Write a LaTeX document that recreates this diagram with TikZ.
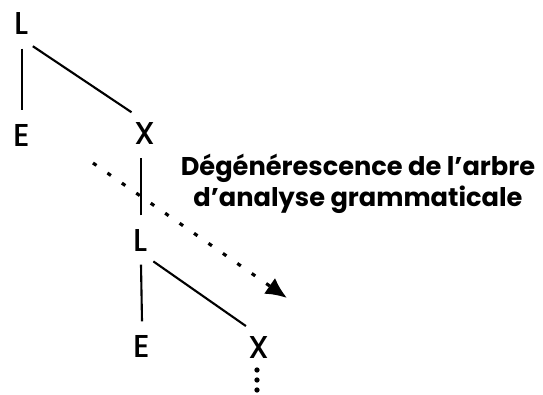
\documentclass[tikz,border=0pt]{standalone}
\usepackage{fontspec}
\setmainfont{Poppins}
\newfontfamily\symbfont{Poppins Medium}
\usepackage{tikz}
\usetikzlibrary{arrows.meta,calc}
\tikzset{
    % noeuds de l'arbre
    symb/.style={
        circle,
        minimum size=4.8mm,
        inner sep=0pt,
        font=\symbfont\fontsize{9}{10}\selectfont
    },
    branch/.style={
        line width=0.6pt,
        black
    },
    % fleche en pointilles
    dotarrow/.style={
        line width=0.9pt,
        dash pattern=on 1.2pt off 3.8pt,
        -{Latex[length=6pt, width=5.5pt]}
    }
}
\begin{document}
\begin{tikzpicture}[x=0.01cm,y=-0.01cm]
\useasboundingbox (0,0) rectangle (543,394);

% ===================== premier niveau =====================
\node[symb] (L1) at (22,24) {L};
\node[symb] (E1) at (22,135) {E};
\node[symb] (X1) at (145,133) {X};

\draw[branch] (L1.south) -- (E1.north);
\draw[branch] (L1.-64) -- (X1.123);

% ===================== second niveau =====================
\node[symb] (L2) at (141,240) {L};
\node[symb] (E2) at (142,346) {E};
\node[symb] (X2) at (259,347) {X};

\draw[branch] (L2.north) -- (L2.north |- X1.south);
\draw[branch] (L2.south) -- (E2.north);
\draw[branch] (L2.-60) -- (X2.122);

% suite
\foreach \k in {0,1,2}
    \fill ($(X2.center)+(-2,23+10*\k)$) circle (0.75pt);

% fleche et texte
\coordinate (degstart) at (93,163);
\coordinate (degend) at (287,298);
\draw[dotarrow] (degstart) -- (degend);

\node[align=center, font=\bfseries\fontsize{7.3}{7.6}\selectfont] (deg) at (358,184)
    {Dégénérescence de l'arbre\\d'analyse grammaticale};
\end{tikzpicture}
\end{document}
